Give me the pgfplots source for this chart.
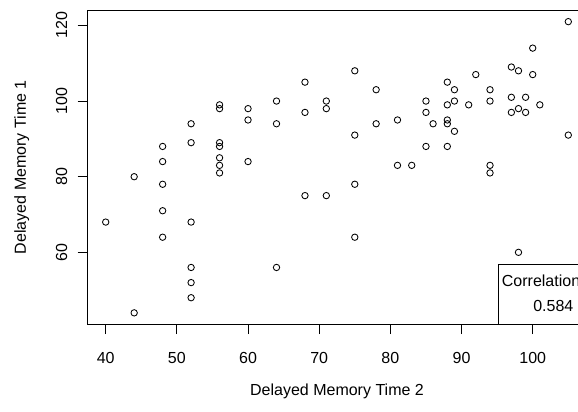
\documentclass[border=0pt]{standalone}
\usepackage{pgfplots}
\pgfplotsset{compat=1.18}
\usepackage{fontspec}
\setmainfont{Liberation Sans}
\begin{document}
\begin{tikzpicture}
\begin{axis}[
  at={(87.2bp,87.5bp)}, anchor=south west,
  scale only axis, width=499.6bp, height=314.5bp,
  xmin=37.4, xmax=107.6, ymin=40.92, ymax=124.08,
  axis line style={black, line width=0.8bp},
  xtick={40,50,60,70,80,90,100}, ytick={60,80,100,120},
  tick pos=left, tick align=outside, major tick length=9.6bp,
  tick style={black, line width=0.8bp},
  /pgf/number format/assume math mode=true,
  tick label style={font=\fontsize{16bp}{19bp}\selectfont},
  xticklabel style={anchor=base}, xticklabel shift=29.2bp,
  yticklabel style={rotate=90, anchor=base}, yticklabel shift=10.6bp,
  label style={font=\fontsize{16bp}{19bp}\selectfont},
  xlabel={Delayed Memory Time 2},
  xlabel style={at={(axis description cs:0.5,-0.227)}, anchor=base},
  ylabel={Delayed Memory Time 1},
  ylabel style={at={(axis description cs:-0.1225,0.5)}, anchor=base, rotate=0},
]
\addplot[only marks, mark=o, mark size=3.2bp, mark options={black, line width=0.85bp}] coordinates {
(68,105) (64,100) (71,100) (71,98) (56,99) (56,98) (60,98) (68,97) (60,95) (64,94)
(52,94) (52,89) (48,88) (56,89) (56,88) (48,84) (56,85) (56,83) (60,84) (44,80)
(48,78) (56,81) (68,75) (71,75) (48,71) (40,68) (52,68) (48,64) (52,56) (64,56)
(52,52) (52,48) (44,44)
(105,121) (100,114) (75,108) (97,109) (98,108) (100,107) (92,107) (88,105) (78,103) (89,103)
(94,103) (85,100) (88,99) (89,100) (91,99) (94,100) (97,101) (99,101) (101,99) (98,98)
(97,97) (99,97) (85,97) (81,95) (78,94) (86,94) (88,95) (88,94) (89,92) (75,91)
(105,91) (85,88) (88,88) (81,83) (83,83) (94,83) (94,81) (75,78) (75,64) (98,60)
};
\draw[black, line width=0.8bp, fill=white] (rel axis cs:0.8223,0) rectangle (rel axis cs:1.2,0.191);
\node[anchor=base west, inner sep=0pt, font=\fontsize{16bp}{19bp}\selectfont] at (rel axis cs:0.8297,0.12) {Correlation};
\node[anchor=base, inner sep=0pt, font=\fontsize{16bp}{19bp}\selectfont] at (rel axis cs:0.933,0.0406) {0.584};
\end{axis}
\pgfresetboundingbox
\useasboundingbox (0,0) rectangle (578bp,412bp);
\end{tikzpicture}
\end{document}
